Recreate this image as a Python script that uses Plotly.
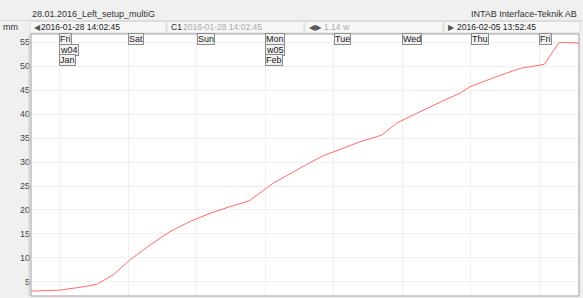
import plotly.graph_objects as go

# ---- data ----
times = [
    "2016-01-28 14:02:45", "2016-01-29 00:12", "2016-01-29 07:12", "2016-01-29 13:02",
    "2016-01-29 18:52", "2016-01-30 00:42", "2016-01-30 07:42", "2016-01-30 14:42",
    "2016-01-30 21:42", "2016-01-31 04:42", "2016-01-31 11:42", "2016-01-31 18:22",
    "2016-02-01 02:52", "2016-02-01 08:43", "2016-02-01 14:34", "2016-02-01 20:22",
    "2016-02-02 02:12", "2016-02-02 09:12", "2016-02-02 16:48", "2016-02-02 22:04",
    "2016-02-03 03:52", "2016-02-03 09:43", "2016-02-03 15:34", "2016-02-03 20:13",
    "2016-02-03 23:43", "2016-02-04 09:04", "2016-02-04 17:14", "2016-02-05 01:44",
    "2016-02-05 06:53", "2016-02-05 13:52:45",
]
values_mm = [
    3.1, 3.3, 3.9, 4.5,
    6.5, 9.6, 12.7, 15.5,
    17.6, 19.3, 20.7, 21.9,
    25.6, 27.6, 29.5, 31.3,
    32.6, 34.2, 35.6, 38.1,
    39.8, 41.5, 43.1, 44.3,
    45.7, 47.8, 49.5, 50.35,
    54.9, 54.8,
]
day_dates = ["2016-01-29", "2016-01-30", "2016-01-31", "2016-02-01",
             "2016-02-02", "2016-02-03", "2016-02-04", "2016-02-05"]
day_labels = ["Fri", "Sat", "Sun", "Mon", "Tue", "Wed", "Thu", "Fri"]
week_dates = ["2016-01-29", "2016-02-01"]
week_labels = ["w04", "w05"]
month_dates = ["2016-01-29", "2016-02-01"]
month_labels = ["Jan", "Feb"]
y_ticks = [5, 10, 15, 20, 25, 30, 35, 40, 45, 50, 55]

title_text = "28.01.2016_Left_setup_multiG"
company_text = "INTAB Interface-Teknik AB"
unit_text = "mm"
start_text = "2016-01-28 14:02:45"
cursor_text = "2016-01-28 14:02:45"
span_text = "1.14 w"
end_text = "2016-02-05 13:52:45"

# ---- layout geometry ----
W, H = 583, 298
L, R, T, B = 31, 4, 34, 2
PW = W - L - R
PH = H - T - B
FONT = "Liberation Sans"


def px(xp):
    return (xp - L) / PW


def py(yp):
    return 1 - (yp - T) / PH


fig = go.Figure()
fig.add_trace(go.Scatter(
    x=times, y=values_mm, mode="lines",
    line=dict(color="#ff6b6b", width=1), hoverinfo="skip", showlegend=False,
))

ann = []
box = dict(bordercolor="#8c8c8c", borderwidth=1, bgcolor="#f2f2f2", borderpad=0)
for d, lab in zip(day_dates, day_labels):
    ann.append(dict(x=d, y=py(39.5), xref="x", yref="paper", text=lab, showarrow=False,
                    xanchor="left", yanchor="middle", font=dict(size=9, color="#222", family=FONT), **box))
for d, lab in zip(week_dates, week_labels):
    ann.append(dict(x=d, y=py(50), xref="x", yref="paper", text=lab, showarrow=False,
                    xanchor="left", yanchor="middle", font=dict(size=9, color="#222", family=FONT), **box))
for d, lab in zip(month_dates, month_labels):
    ann.append(dict(x=d, y=py(60), xref="x", yref="paper", text=lab, showarrow=False,
                    xanchor="left", yanchor="middle", font=dict(size=9, color="#222", family=FONT), **box))

hdr = dict(xref="paper", yref="paper", showarrow=False, yanchor="middle")
ann += [
    dict(x=px(30), y=py(14), text=title_text, xanchor="left",
         font=dict(size=9, color="#333", family=FONT), **hdr),
    dict(x=px(579), y=py(14), text=company_text, xanchor="right",
         font=dict(size=9, color="#333", family=FONT), **hdr),
    dict(x=px(1), y=py(27.5), text=unit_text, xanchor="left",
         font=dict(size=9, color="#333", family=FONT), **hdr),
    dict(x=px(32), y=py(27.5), text="◀", xanchor="left",
         font=dict(size=8, color="#555", family="DejaVu Sans"), **hdr),
    dict(x=px(39), y=py(27.5), text=start_text, xanchor="left",
         font=dict(size=8.5, color="#222", family=FONT), **hdr),
    dict(x=px(169), y=py(27.5), text="C1", xanchor="left",
         font=dict(size=8.5, color="#222", family=FONT), **hdr),
    dict(x=px(181), y=py(27.5), text=cursor_text, xanchor="left",
         font=dict(size=8.5, color="#aaa", family=FONT), **hdr),
    dict(x=px(307), y=py(27.5), text="◀▶", xanchor="left",
         font=dict(size=8, color="#555", family="DejaVu Sans"), **hdr),
    dict(x=px(322), y=py(27.5), text=span_text, xanchor="left",
         font=dict(size=8.5, color="#aaa", family=FONT), **hdr),
    dict(x=px(446), y=py(27.5), text="▶", xanchor="left",
         font=dict(size=8, color="#555", family="DejaVu Sans"), **hdr),
    dict(x=px(455), y=py(27.5), text=end_text, xanchor="left",
         font=dict(size=8.5, color="#222", family=FONT), **hdr),
]

shapes = [
    dict(type="line", xref="paper", yref="paper", x0=px(0), x1=px(583), y0=py(20.5), y1=py(20.5),
         line=dict(color="#dcdcdc", width=1)),
    dict(type="rect", xref="paper", yref="paper", x0=px(30), x1=px(166), y0=py(33), y1=py(21.5),
         line=dict(color="#dcdcdc", width=1), fillcolor="#f7f7f7", layer="below"),
    dict(type="rect", xref="paper", yref="paper", x0=px(167), x1=px(304), y0=py(33), y1=py(21.5),
         line=dict(color="#dcdcdc", width=1), fillcolor="#f7f7f7", layer="below"),
    dict(type="rect", xref="paper", yref="paper", x0=px(305), x1=px(443), y0=py(33), y1=py(21.5),
         line=dict(color="#dcdcdc", width=1), fillcolor="#f7f7f7", layer="below"),
    dict(type="rect", xref="paper", yref="paper", x0=px(444), x1=px(580), y0=py(33), y1=py(21.5),
         line=dict(color="#dcdcdc", width=1), fillcolor="#f7f7f7", layer="below"),
    dict(type="rect", xref="paper", yref="paper", x0=0, x1=1, y0=0, y1=1,
         line=dict(color="#a0a0a0", width=1)),
    dict(type="line", xref="paper", yref="paper", x0=px(29), x1=px(29), y0=0, y1=1,
         line=dict(color="#c8c8c8", width=1)),
]

fig.update_layout(
    width=W, height=H,
    margin=dict(l=L, r=R, t=T, b=B),
    paper_bgcolor="#f0f0f0", plot_bgcolor="#ffffff",
    showlegend=False,
    font=dict(family=FONT, size=9, color="#333"),
    annotations=ann, shapes=shapes,
    xaxis=dict(
        type="date", range=[times[0], times[-1]],
        tick0="2016-01-29", dtick=86400000,
        showticklabels=False, ticks="",
        showgrid=True, gridcolor="#f0f0f0", gridwidth=1,
        zeroline=False, showline=False,
    ),
    yaxis=dict(
        range=[2.08, 56.67], tickvals=y_ticks,
        ticks="", ticklen=0,
        tickfont=dict(size=9, color="#444", family=FONT),
        showgrid=True, gridcolor="#f0f0f0", gridwidth=1,
        zeroline=False, showline=False,
    ),
)

fig.write_html("out.html", config={"displayModeBar": False},
               post_script="document.body.style.margin='0';")
